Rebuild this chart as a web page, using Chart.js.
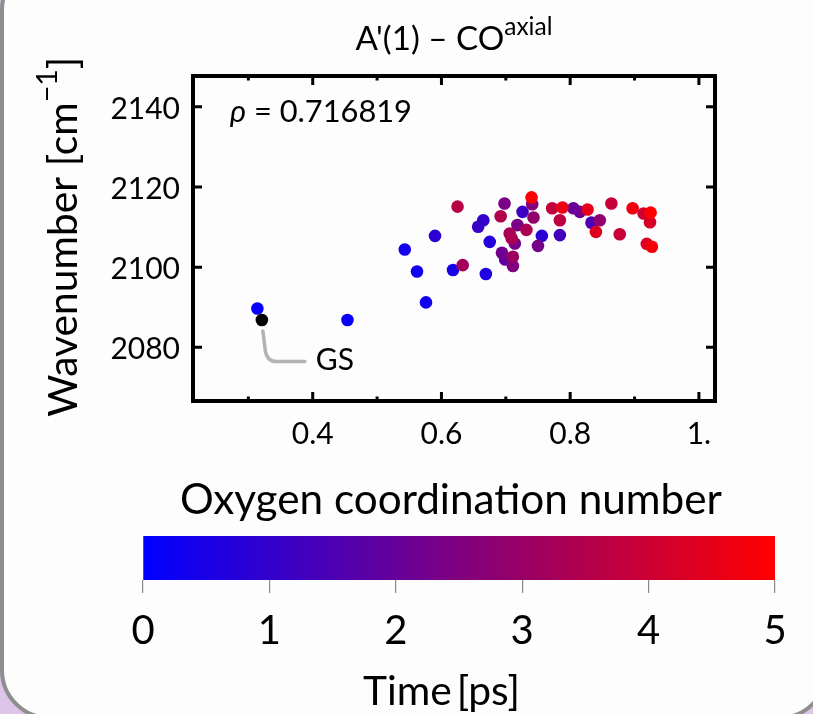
<!DOCTYPE html>
<html>
<head>
<meta charset="utf-8">
<script src="https://cdn.jsdelivr.net/npm/chart.js@4.4.1/dist/chart.umd.min.js"></script>
<style>
  html, body { margin: 0; padding: 0; width: 813px; height: 714px; overflow: hidden; background: #dcc5e8; }
  #panel { position: absolute; left: 0; top: -40px; width: 829px; height: 760px; box-sizing: border-box;
           border: 4px solid #8e8e8e; border-radius: 50px; background: #fdfdfd; }
  canvas { position: absolute; left: 0; top: 0; }
</style>
</head>
<body>
<div id="panel"></div>
<canvas id="scatter" width="813" height="714"></canvas>
<canvas id="colorbar" width="813" height="714"></canvas>
<script>
// ---------------- data ----------------
const OCN = [0.314, 0.454, 0.576, 0.543, 0.562, 0.590, 0.625, 0.618, 0.633, 0.657, 0.665, 0.669,
             0.675, 0.692, 0.698, 0.694, 0.699, 0.706, 0.709, 0.714, 0.711, 0.711, 0.718, 0.726,
             0.732, 0.740, 0.741, 0.743, 0.750, 0.756, 0.772, 0.788, 0.784, 0.784, 0.805, 0.815,
             0.827, 0.833, 0.846, 0.840, 0.864, 0.877, 0.897, 0.914, 0.925, 0.924, 0.919, 0.927];
const WAVENUMBER = [2089.7, 2086.8, 2091.2, 2104.4, 2098.9, 2107.8, 2115.1, 2099.3, 2100.5, 2110.1, 2111.7, 2098.3,
                    2106.3, 2112.7, 2115.9, 2103.6, 2101.9, 2108.4, 2107.2, 2105.9, 2102.6, 2100.3, 2110.5, 2113.8,
                    2109.3, 2117.4, 2115.7, 2112.4, 2105.3, 2107.8, 2114.7, 2114.9, 2111.7, 2108.0, 2114.7, 2113.8,
                    2114.4, 2111.1, 2111.7, 2108.8, 2115.9, 2108.2, 2114.7, 2113.4, 2113.6, 2111.2, 2105.8, 2105.1];
const TIME_PS = [0.1, 0.2, 0.3, 0.4, 0.3, 0.9, 3.6, 0.5, 3.2, 1.1, 1.0, 0.6,
                 0.7, 3.5, 2.4, 2.2, 1.9, 3.3, 3.4, 2.3, 3.1, 2.5, 2.4, 1.2,
                 3.4, 4.9, 2.6, 2.9, 2.3, 0.8, 3.8, 4.6, 3.7, 1.3, 2.0, 2.2,
                 4.5, 1.5, 2.8, 4.4, 3.9, 3.9, 4.7, 4.1, 5.0, 4.2, 4.3, 4.8];
const GS_OCN = [0.321];
const GS_WAVENUMBER = [2086.8];
const GS_LABEL = 'GS';
const RHO_VALUE = '0.716819';

const X_TICKS = [0.4, 0.6, 0.8, 1.0];
const X_TICK_LABELS = ['0.4', '0.6', '0.8', '1.'];
const X_MINOR_TICKS = [0.3, 0.5, 0.7, 0.9];
const Y_TICKS = [2080, 2100, 2120, 2140];
const Y_TICK_LABELS = ['2080', '2100', '2120', '2140'];
const TIME_TICKS = [0, 1, 2, 3, 4, 5];
const TIME_TICK_LABELS = ['0', '1', '2', '3', '4', '5'];

const TITLE_MAIN = "A'(1) \u2013 CO";
const TITLE_SUP = 'axial';
const Y_TITLE = ['Wavenumber [cm', '\u22121', ']'];
const X_TITLE = 'Oxygen coordination number';
const CB_TITLE = 'Time\u2009[ps]';

// ---------------- helpers ----------------
const FONT = "Lato, 'Open Sans', 'Noto Sans', sans-serif";
const T_MAX = TIME_TICKS[TIME_TICKS.length - 1];
function timeColor(t) {
  const f = Math.max(0, Math.min(1, t / T_MAX));
  return `rgb(${Math.round(255 * f)},0,${Math.round(255 * (1 - f))})`;
}
function fontStr(size, italic) { return `${italic ? 'italic ' : ''}${size}px ${FONT}`; }
function richWidth(ctx, parts, base) {
  let w = 0;
  parts.forEach(p => { ctx.font = fontStr(base * (p.scale || 1), p.italic); w += ctx.measureText(p.text).width; });
  return w;
}
function fitBase(ctx, parts, target) { return 100 * target / richWidth(ctx, parts, 100); }
function drawRich(ctx, parts, base, x, y, align) {
  const w = richWidth(ctx, parts, base);
  let cx = align === 'center' ? x - w / 2 : x;
  ctx.textBaseline = 'alphabetic';
  ctx.textAlign = 'left';
  ctx.fillStyle = '#000';
  parts.forEach(p => {
    ctx.font = fontStr(base * (p.scale || 1), p.italic);
    ctx.fillText(p.text, cx, y - (p.rise || 0) * base);
    cx += ctx.measureText(p.text).width;
  });
}

// order points by time so that later frames are drawn on top
const order = TIME_PS.map((t, i) => i).sort((a, b) => TIME_PS[a] - TIME_PS[b]);
const points = order.map(i => ({ x: OCN[i], y: WAVENUMBER[i] }));
const pointColors = order.map(i => timeColor(TIME_PS[i]));

// ---------------- scatter chart ----------------
const scatterDecor = {
  id: 'scatterDecor',
  afterDatasetsDraw(chart) {
    const { ctx, chartArea: a, scales: { x, y } } = chart;
    ctx.save();
    ctx.strokeStyle = '#000';
    ctx.lineWidth = 3;
    ctx.lineCap = 'butt';
    ctx.beginPath();
    X_TICKS.forEach(v => {
      const px = x.getPixelForValue(v);
      ctx.moveTo(px, a.bottom); ctx.lineTo(px, a.bottom - 9);
      ctx.moveTo(px, a.top); ctx.lineTo(px, a.top + 9);
    });
    X_MINOR_TICKS.forEach(v => {
      const px = x.getPixelForValue(v);
      ctx.moveTo(px, a.bottom); ctx.lineTo(px, a.bottom - 4.5);
      ctx.moveTo(px, a.top); ctx.lineTo(px, a.top + 4.5);
    });
    Y_TICKS.forEach(v => {
      const py = y.getPixelForValue(v);
      ctx.moveTo(a.left, py); ctx.lineTo(a.left + 9, py);
      ctx.moveTo(a.right, py); ctx.lineTo(a.right - 9, py);
    });
    ctx.stroke();
    ctx.lineWidth = 4;
    ctx.strokeRect(a.left, a.top, a.right - a.left, a.bottom - a.top);

    // GS leader line
    const gx = x.getPixelForValue(GS_OCN[0]);
    const gy = y.getPixelForValue(GS_WAVENUMBER[0]);
    ctx.strokeStyle = '#b3b3b3';
    ctx.lineWidth = 3.5;
    ctx.lineCap = 'round';
    ctx.lineJoin = 'round';
    ctx.beginPath();
    ctx.moveTo(gx + 1, gy + 11);
    ctx.lineTo(gx + 3.5, gy + 31);
    ctx.quadraticCurveTo(gx + 5.5, gy + 41.5, gx + 15, gy + 41.5);
    ctx.lineTo(gx + 43, gy + 41.5);
    ctx.stroke();
    ctx.restore();

    ctx.save();
    // GS label
    drawRich(ctx, [{ text: GS_LABEL }], 30, gx + 54, gy + 50, 'left');
    // correlation text
    const rhoParts = [{ text: '\u03C1', italic: true }, { text: ' = ' + RHO_VALUE }];
    drawRich(ctx, rhoParts, fitBase(ctx, rhoParts, 182), a.left + 37, a.top + 46, 'left');
    // title
    const titleParts = [{ text: TITLE_MAIN }, { text: TITLE_SUP, scale: 0.74, rise: 0.45 }];
    drawRich(ctx, titleParts, fitBase(ctx, titleParts, 197), (a.left + a.right) / 2, 50, 'center');
    // x title
    const xt = [{ text: X_TITLE }];
    drawRich(ctx, xt, fitBase(ctx, xt, 542), (a.left + a.right) / 2 - 3, 514, 'center');
    // y title (rotated)
    const yt = [{ text: Y_TITLE[0] }, { text: Y_TITLE[1], scale: 0.7, rise: 0.48 }, { text: Y_TITLE[2] }];
    ctx.translate(77, 236.7);
    ctx.rotate(-Math.PI / 2);
    drawRich(ctx, yt, fitBase(ctx, yt, 360), 0, 0, 'center');
    ctx.restore();
  }
};

new Chart(document.getElementById('scatter'), {
  type: 'scatter',
  data: {
    datasets: [
      { label: 'GS', data: GS_OCN.map((v, i) => ({ x: v, y: GS_WAVENUMBER[i] })),
        pointBackgroundColor: '#000', pointBorderWidth: 0, pointRadius: 6.3 },
      { label: 'trajectory', data: points, pointBackgroundColor: pointColors,
        pointBorderWidth: 0, pointRadius: 6.3 }
    ]
  },
  options: {
    responsive: false, animation: false, devicePixelRatio: 1,
    layout: { padding: { top: 76, right: 98, left: 0, bottom: 0 } },
    plugins: { legend: { display: false }, tooltip: { enabled: false } },
    scales: {
      x: {
        type: 'linear', min: 0.214, max: 1.025,
        afterBuildTicks: s => { s.ticks = X_TICKS.map(v => ({ value: v })); },
        afterFit: s => { s.height = 714 - 401; },
        grid: { display: false, drawTicks: false },
        border: { display: false },
        ticks: { font: { family: FONT, size: 30 }, color: '#000', padding: 15,
                 maxRotation: 0, autoSkip: false,
                 callback: (v, i) => X_TICK_LABELS[i] }
      },
      y: {
        type: 'linear', min: 2066.6, max: 2147.7,
        afterBuildTicks: s => { s.ticks = Y_TICKS.map(v => ({ value: v })); },
        afterFit: s => { s.width = 193; },
        grid: { display: false, drawTicks: false },
        border: { display: false },
        ticks: { font: { family: FONT, size: 30 }, color: '#000', padding: 13, labelOffset: 2,
                 autoSkip: false, callback: (v, i) => Y_TICK_LABELS[i] }
      }
    }
  },
  plugins: [scatterDecor]
});

// ---------------- colorbar ----------------
const cbDecor = {
  id: 'cbDecor',
  afterDraw(chart) {
    const { ctx } = chart;
    ctx.save();
    const t = [{ text: CB_TITLE }];
    drawRich(ctx, t, fitBase(ctx, t, 157), 363, 705, 'left');
    ctx.restore();
  }
};

new Chart(document.getElementById('colorbar'), {
  type: 'bar',
  data: {
    labels: ['time'],
    datasets: [{
      data: [[TIME_TICKS[0], TIME_TICKS[TIME_TICKS.length - 1]]],
      backgroundColor: c => {
        const a = c.chart.chartArea;
        if (!a) return timeColor(0);
        const g = c.chart.ctx.createLinearGradient(a.left, 0, a.right, 0);
        TIME_TICKS.forEach(v => g.addColorStop(v / T_MAX, timeColor(v)));
        return g;
      },
      borderWidth: 0, barPercentage: 1, categoryPercentage: 1
    }]
  },
  options: {
    indexAxis: 'y', responsive: false, animation: false, devicePixelRatio: 1,
    layout: { padding: { top: 536, left: 143, right: 38, bottom: 0 } },
    plugins: { legend: { display: false }, tooltip: { enabled: false } },
    scales: {
      x: {
        type: 'linear', min: 0, max: 5,
        afterBuildTicks: s => { s.ticks = TIME_TICKS.map(v => ({ value: v })); },
        afterFit: s => { s.height = 714 - 580; },
        grid: { display: true, drawOnChartArea: false, drawTicks: true, tickLength: 13,
                color: '#8a8a8a', lineWidth: 1.2 },
        border: { display: false },
        ticks: { font: { family: FONT, size: 40 }, color: '#000', padding: 14,
                 maxRotation: 0, autoSkip: false, callback: (v, i) => TIME_TICK_LABELS[i] }
      },
      y: { display: false }
    }
  },
  plugins: [cbDecor]
});
</script>
</body>
</html>
